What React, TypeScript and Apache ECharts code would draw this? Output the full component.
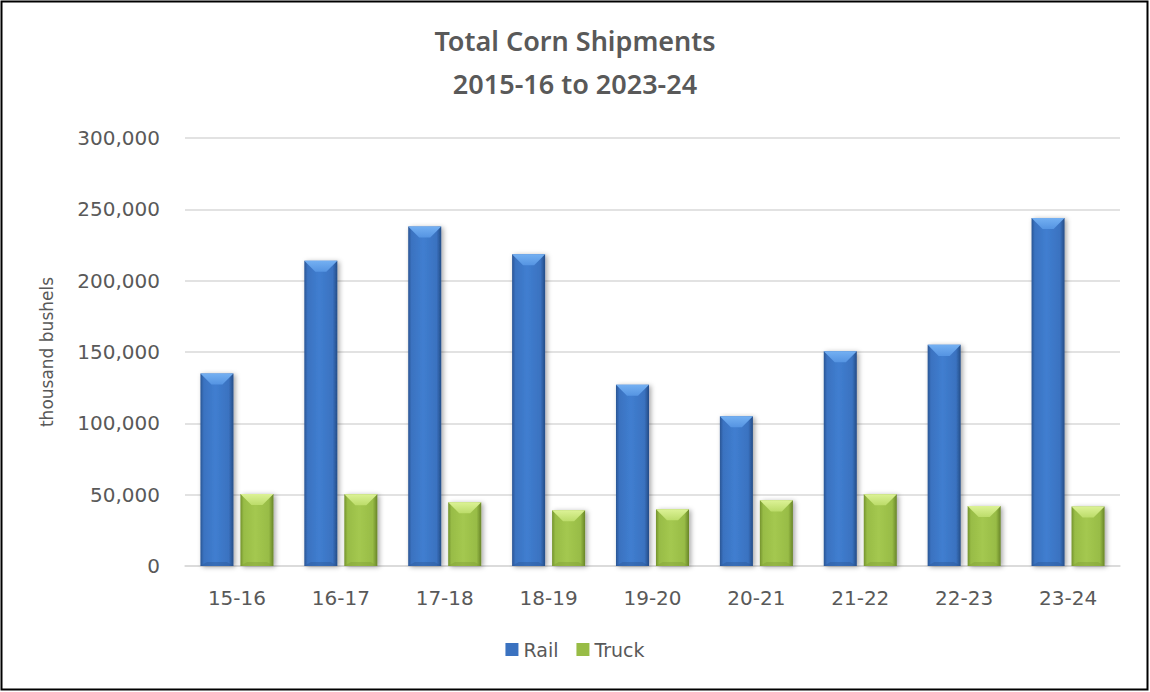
import React, { useEffect, useRef } from "react";
import * as echarts from "echarts";

const categories = ["15-16", "16-17", "17-18", "18-19", "19-20", "20-21", "21-22", "22-23", "23-24"];
const railValues = [135000, 214000, 238000, 218500, 127000, 105000, 150500, 155000, 244000];
const truckValues = [50500, 50300, 44700, 39000, 39700, 46000, 50300, 42000, 41700];
const yTicks = { min: 0, max: 300000, interval: 50000 };

const FONT = "DejaVu Sans";
const TEXT = "#595959";

type Pal = { main: string; edgeL: string; edgeR: string; mid: string; capTop: string; capBot: string; bottom: string };
const railPal: Pal = { main: "#3a72c0", edgeL: "#2a5594", edgeR: "#244c86", mid: "#407ed0", capTop: "#74b0f2", capBot: "#5594e2", bottom: "#2a5594" };
const truckPal: Pal = { main: "#98bc46", edgeL: "#74932e", edgeR: "#688528", mid: "#a4c850", capTop: "#dcf296", capBot: "#bcdc6a", bottom: "#7e9c34" };

function makeRender(sign: number, pal: Pal) {
  return (params: any, api: any) => {
    const idx = api.value(0);
    const val = api.value(1);
    const top = api.coord([idx, val]);
    const base = api.coord([idx, 0]);
    const band = api.size([1, 0])[0];
    const w = band * 0.318;
    const gap = band * 0.067;
    const cx = top[0] + (sign * (w + gap)) / 2;
    const x0 = cx - w / 2;
    const x1 = cx + w / 2;
    const y0 = top[1];
    const y1 = base[1];
    const h = y1 - y0;
    const b = Math.min(w / 3, h / 2);
    const bb = Math.min(w / 5, h / 4);
    const grad = new echarts.graphic.LinearGradient(0, 0, 1, 0, [
      { offset: 0, color: pal.edgeL },
      { offset: 0.1, color: pal.main },
      { offset: 0.45, color: pal.mid },
      { offset: 0.86, color: pal.main },
      { offset: 1, color: pal.edgeR },
    ]);
    const capGrad = new echarts.graphic.LinearGradient(0, 0, 0, 1, [
      { offset: 0, color: pal.capTop },
      { offset: 1, color: pal.capBot },
    ]);
    return {
      type: "group",
      children: [
        {
          type: "rect",
          shape: { x: x0, y: y0, width: w, height: h },
          style: { fill: grad, shadowBlur: 5, shadowColor: "rgba(0,0,0,0.35)", shadowOffsetX: 2, shadowOffsetY: 1 },
        },
        {
          type: "polygon",
          shape: { points: [[x0, y0], [x1, y0], [x1 - b, y0 + b], [x0 + b, y0 + b]] },
          style: { fill: capGrad },
        },
        {
          type: "polygon",
          shape: { points: [[x0, y1], [x1, y1], [x1 - bb, y1 - bb * 0.6], [x0 + bb, y1 - bb * 0.6]] },
          style: { fill: pal.bottom, opacity: 0.4 },
        },
      ],
    };
  };
}

export default function App() {
  const ref = useRef<HTMLDivElement>(null);
  useEffect(() => {
    document.body.style.margin = "0";
    const chart = echarts.init(ref.current!, null, { renderer: "svg" });
    chart.setOption({
      animation: false,
      backgroundColor: "#ffffff",
      title: {
        text: "Total Corn Shipments\n2015-16 to 2023-24",
        left: "center",
        top: 14,
        textStyle: { fontFamily: "Noto Sans", fontSize: 27, fontWeight: 600, color: TEXT, lineHeight: 43 },
      },
      graphic: [
        {
          type: "rect",
          shape: { x: 1.5, y: 1.5, width: 1146, height: 688 },
          style: { fill: "none", stroke: "#000", lineWidth: 2 },
          silent: true,
        },
      ],
      legend: {
        bottom: 28,
        left: "center",
        icon: "rect",
        itemWidth: 13,
        itemHeight: 13,
        itemGap: 18,
        textStyle: { fontFamily: FONT, fontSize: 19, color: TEXT },
        data: ["Rail", "Truck"],
      },
      grid: { left: 185, right: 30, top: 138, bottom: 126 },
      xAxis: {
        type: "category",
        data: categories,
        axisTick: { show: false },
        axisLine: { lineStyle: { color: "#d9d9d9", width: 1.5 } },
        axisLabel: { fontFamily: FONT, fontSize: 20, color: TEXT, margin: 22 },
      },
      yAxis: {
        type: "value",
        min: yTicks.min,
        max: yTicks.max,
        interval: yTicks.interval,
        name: "thousand bushels",
        nameLocation: "middle",
        nameGap: 130,
        nameTextStyle: { fontFamily: FONT, fontSize: 17, color: TEXT },
        axisLine: { show: false },
        axisTick: { show: false },
        splitLine: { lineStyle: { color: "#d9d9d9", width: 1.5 } },
        axisLabel: {
          fontFamily: FONT,
          fontSize: 20,
          color: TEXT,
          margin: 25,
          formatter: (v: number) => v.toLocaleString("en-US"),
        },
      },
      series: [
        {
          name: "Rail",
          type: "custom",
          renderItem: makeRender(-1, railPal),
          itemStyle: { color: railPal.main },
          encode: { x: 0, y: 1 },
          data: railValues.map((v, i) => [i, v]),
        },
        {
          name: "Truck",
          type: "custom",
          renderItem: makeRender(1, truckPal),
          itemStyle: { color: truckPal.main },
          encode: { x: 0, y: 1 },
          data: truckValues.map((v, i) => [i, v]),
        },
      ],
    });
    return () => chart.dispose();
  }, []);
  return <div ref={ref} style={{ width: 1150, height: 692 }} />;
}
